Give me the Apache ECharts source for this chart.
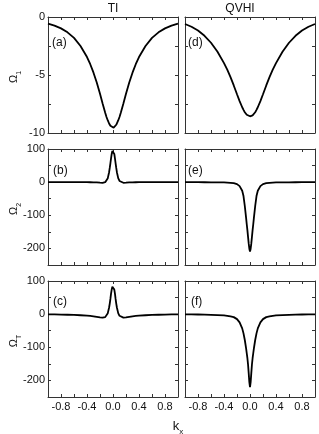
<!DOCTYPE html>
<html><head><meta charset="utf-8">
<script src="https://cdn.jsdelivr.net/npm/echarts@6/dist/echarts.min.js"></script>
<style>html,body{margin:0;padding:0;background:#fff}#c{width:319px;height:434px}</style>
</head><body><div id="c"></div>
<script>
// k_x sample points
const kx = [-1.0,-0.9,-0.8,-0.7,-0.6,-0.5,-0.4,-0.35,-0.3,-0.25,-0.2,-0.16,-0.12,-0.1,-0.08,-0.06,-0.05,-0.04,-0.03,-0.02,-0.01,
  0,
  0.01,0.02,0.03,0.04,0.05,0.06,0.08,0.1,0.12,0.16,0.2,0.25,0.3,0.35,0.4,0.5,0.6,0.7,0.8,0.9,1.0];

// (a) TI, Omega_1
const omega1TI = [-0.58,-0.75,-0.98,-1.32,-1.8,-2.5,-3.45,-4.07,-4.8,-5.65,-6.62,-7.45,-8.25,-8.62,-8.92,-9.18,-9.29,-9.38,-9.46,-9.51,-9.54,
  -9.55,
  -9.54,-9.51,-9.46,-9.38,-9.29,-9.18,-8.92,-8.62,-8.25,-7.45,-6.62,-5.65,-4.8,-4.07,-3.45,-2.5,-1.8,-1.32,-0.98,-0.75,-0.58];
// (b) TI, Omega_2
const omega2TI = [0,0,0,0,0,-0.1,-0.2,-0.3,-0.5,-0.9,-1.6,-2,0,3.5,12,30,43,57,72,85,94,
  97,
  94,85,72,57,43,30,12,3.5,0,-2,-1.6,-0.9,-0.5,-0.3,-0.2,-0.1,0,0,0,0,0];
// (c) TI, Omega_T
const omegaTTI = [-0.8,-1,-1.3,-1.8,-2.5,-3.3,-4.5,-5.5,-6.5,-8,-9.5,-10.5,-9,-5,3,20,32,46,62,74,83,
  86,
  83,74,62,46,32,20,3,-5,-9,-10.5,-9.5,-8,-6.5,-5.5,-4.5,-3.3,-2.5,-1.8,-1.3,-1,-0.8];
// (d) QVHI, Omega_1
const omega1QVHI = [-0.6,-0.84,-1.17,-1.62,-2.22,-3.0,-3.98,-4.54,-5.18,-5.9,-6.66,-7.25,-7.78,-8.01,-8.21,-8.37,-8.43,-8.48,-8.51,-8.54,-8.55,
  -8.56,
  -8.55,-8.54,-8.51,-8.48,-8.43,-8.37,-8.21,-8.01,-7.78,-7.25,-6.66,-5.9,-5.18,-4.54,-3.98,-3.0,-2.22,-1.62,-1.17,-0.84,-0.6];
// (e) QVHI, Omega_2
const omega2QVHI = [-0.1,-0.1,-0.2,-0.3,-0.4,-0.6,-1,-1.5,-2,-3,-6,-12,-26,-42,-72,-108,-127,-145,-165,-185,-201,
  -209,
  -201,-185,-165,-145,-127,-108,-72,-42,-26,-12,-6,-3,-2,-1.5,-1,-0.6,-0.4,-0.3,-0.2,-0.1,-0.1];
// (f) QVHI, Omega_T
const omegaTQVHI = [-0.6,-0.8,-1.1,-1.6,-2.2,-3,-4,-5,-6.5,-9,-15,-25,-43,-58,-78,-103,-118,-133,-152,-178,-205,
  -220,
  -205,-178,-152,-133,-118,-103,-78,-58,-43,-25,-15,-9,-6.5,-5,-4,-3,-2.2,-1.6,-1.1,-0.8,-0.6];

const columnTitles = ['TI', 'QVHI'];
const panelLabels = ['(a)', '(b)', '(c)', '(d)', '(e)', '(f)'];
const xTickLabels = ['-0.8', '-0.4', '0.0', '0.4', '0.8'];
const yTicksTop = [0, -5, -10];
const yTicksLower = [100, 0, -100, -200];

const FONT = 'Liberation Sans, Arial, Helvetica, sans-serif';
const INK = '#111';
const BOX = '#333';

const colLeft = [48, 185];
const rowTop = [17, 149, 281];
const W = 130, H = 116;

const panels = [
  {col:0,row:0,data:omega1TI,y:[-10,0,2.5],ticks:yTicksTop,label:panelLabels[0],lx:52,ly:44},
  {col:0,row:1,data:omega2TI,y:[-250,100,50],ticks:yTicksLower,label:panelLabels[1],lx:53,ly:172},
  {col:0,row:2,data:omegaTTI,y:[-250,100,50],ticks:yTicksLower,label:panelLabels[2],lx:53,ly:303},
  {col:1,row:0,data:omega1QVHI,y:[-10,0,2.5],ticks:yTicksTop,label:panelLabels[3],lx:188,ly:44},
  {col:1,row:1,data:omega2QVHI,y:[-250,100,50],ticks:yTicksLower,label:panelLabels[4],lx:188,ly:172},
  {col:1,row:2,data:omegaTQVHI,y:[-250,100,50],ticks:yTicksLower,label:panelLabels[5],lx:191,ly:303}
];

const grid = [], xAxis = [], yAxis = [], series = [], graphic = [];
const axisLine = {show:true, onZero:false, lineStyle:{color:BOX, width:1}};
const axisTick = {show:true, inside:true, length:3, lineStyle:{color:BOX, width:1}};

panels.forEach((p, i) => {
  grid.push({left:colLeft[p.col], top:rowTop[p.row], width:W, height:H, containLabel:false});
  const showX = p.row === 2;
  const showY = p.col === 0;
  xAxis.push({type:'value', gridIndex:i, min:-1, max:1, interval:0.2, position:'bottom',
    axisLine, axisTick, splitLine:{show:false},
    axisLabel:{show:showX, margin:4, color:INK, fontFamily:FONT, fontSize:11,
      formatter:v => { const s = v.toFixed(1); return xTickLabels.indexOf(s) >= 0 ? s : ''; }}});
  xAxis.push({type:'value', gridIndex:i, min:-1, max:1, interval:0.2, position:'top',
    axisLine, axisTick, splitLine:{show:false}, axisLabel:{show:false}});
  yAxis.push({type:'value', gridIndex:i, min:p.y[0], max:p.y[1], interval:p.y[2], position:'left',
    axisLine, axisTick, splitLine:{show:false},
    axisLabel:{show:showY, margin:3, color:INK, fontFamily:FONT, fontSize:11,
      formatter:v => p.ticks.indexOf(v) >= 0 ? String(v) : ''}});
  yAxis.push({type:'value', gridIndex:i, min:p.y[0], max:p.y[1], interval:p.y[2], position:'right',
    axisLine, axisTick, splitLine:{show:false}, axisLabel:{show:false}});
  series.push({type:'line', xAxisIndex:2*i, yAxisIndex:2*i, showSymbol:false, smooth:false,
    lineStyle:{color:'#000', width:1.8}, data:kx.map((k, j) => [k, p.data[j]]), silent:true, animation:false});
  graphic.push({type:'text', left:p.lx, top:p.ly - 7,
    style:{text:p.label, font:'12px ' + FONT, fill:INK}});
});

graphic.push({type:'text', x:113, y:9, style:{text:columnTitles[0], font:'12px ' + FONT, fill:INK, textAlign:'center', textVerticalAlign:'middle'}});
graphic.push({type:'text', x:240, y:9, style:{text:columnTitles[1], font:'12px ' + FONT, fill:INK, textAlign:'center', textVerticalAlign:'middle'}});

const yNames = [['1', 77], ['2', 209], ['T', 341]];
yNames.forEach(([sub, cy]) => {
  graphic.push({type:'text', x:13, y:cy, rotation:Math.PI/2,
    style:{text:'{o|Ω}{s|' + sub + '}', textAlign:'center', textVerticalAlign:'middle', fill:INK,
      rich:{o:{fontSize:11, fontFamily:FONT, fill:INK, verticalAlign:'bottom', lineHeight:13},
            s:{fontSize:7, fontFamily:FONT, fill:INK, verticalAlign:'bottom', lineHeight:10, padding:[0,0,-3,0]}}}});
});
graphic.push({type:'text', x:178, y:425,
  style:{text:'{o|k}{s|x}', textAlign:'center', textVerticalAlign:'middle', fill:INK,
    rich:{o:{fontSize:13, fontFamily:FONT, fill:INK, verticalAlign:'bottom', lineHeight:15},
          s:{fontSize:8, fontFamily:FONT, fill:INK, verticalAlign:'bottom', lineHeight:10, padding:[0,0,-3,0]}}}});

const chart = echarts.init(document.getElementById('c'), null, {renderer:'canvas'});
chart.setOption({animation:false, backgroundColor:'#fff', grid, xAxis, yAxis, series, graphic});
</script>
</body></html>
